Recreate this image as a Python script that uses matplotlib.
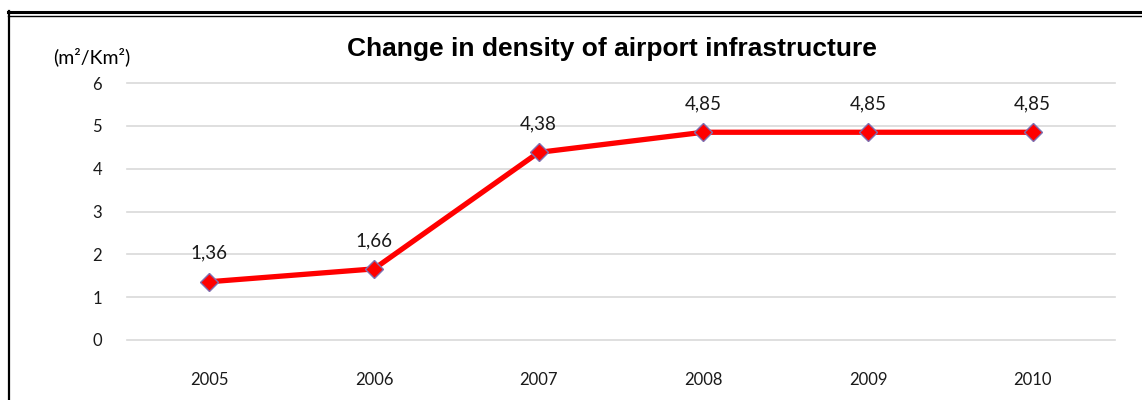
import matplotlib.pyplot as plt
from matplotlib.lines import Line2D

years = ['2005', '2006', '2007', '2008', '2009', '2010']
density = [1.36, 1.66, 4.38, 4.85, 4.85, 4.85]
labels = ['1,36', '1,66', '4,38', '4,85', '4,85', '4,85']

plt.rcParams['font.family'] = ['Lato', 'DejaVu Sans']

fig = plt.figure(figsize=(11.42, 4.0), dpi=100)
ax = fig.add_axes([127 / 1142, 60 / 400, 988 / 1142, 257 / 400])

x = range(len(years))
ax.plot(x, density, color='#FF0000', lw=3.8, marker='D', ms=9.5,
        markerfacecolor='#FF0000', markeredgecolor='#7F6FB0', markeredgewidth=1, zorder=3)
for i, (v, t) in enumerate(zip(density, labels)):
    ax.annotate(t, (i, v), xytext=(0, 20.5), textcoords='offset points',
                ha='center', va='center', fontsize=13.5, color='#1a1a1a')

ax.set_xlim(-0.5, len(years) - 0.5)
ax.set_ylim(0, 6)
ax.set_yticks(range(0, 7))
ax.set_xticks(list(x))
ax.set_xticklabels(years)
ax.tick_params(length=0, labelsize=12, colors='#1a1a1a')
ax.tick_params(axis='x', pad=23)
ax.tick_params(axis='y', pad=18)
ax.grid(axis='y', color='#D9D9D9', lw=1.2)
for gl in ax.get_ygridlines():
    gl.set_clip_on(False)
ax.set_axisbelow(True)
for s in ax.spines.values():
    s.set_visible(False)

fig.text(612 / 1142, 1 - 49 / 400, 'Change in density of airport infrastructure',
         ha='center', va='center', fontsize=19, fontweight='bold', family='Liberation Sans')
fig.text(92 / 1142, 1 - 57 / 400, '(m²/Km²)', ha='center', va='center', fontsize=14)

# frame: double line on top, single on the left
fig.add_artist(Line2D([8 / 1142, 1], [1 - 12 / 400] * 2, color='black', lw=2.2))
fig.add_artist(Line2D([8 / 1142, 1], [1 - 15.5 / 400] * 2, color='black', lw=1))
fig.add_artist(Line2D([9 / 1142] * 2, [0, 1 - 11 / 400], color='black', lw=1.6))

fig.savefig('out.png', dpi=100)
